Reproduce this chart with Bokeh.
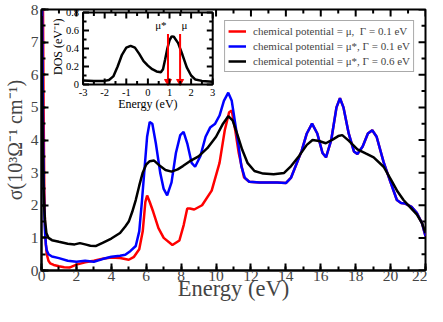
import numpy as np
from bokeh.plotting import figure
from bokeh.models import Range1d, SingleIntervalTicker, Legend, LegendItem
from bokeh.embed import file_html
from bokeh.resources import INLINE
from bokeh.core.properties import value

FONT = "Liberation Serif"

# ---------------- main data ----------------
E_red = [0.0, 0.04, 0.08, 0.12, 0.16, 0.2, 0.25, 0.3, 0.4, 0.5, 0.7, 1.0, 1.3, 1.6, 2.0, 2.5, 3.0, 3.5,
         4.0, 4.5, 5.0, 5.3, 5.6, 5.8, 5.95, 6.05, 6.2, 6.4, 6.7, 7.0, 7.5, 7.9, 8.15, 8.35, 8.5, 8.75,
         9.2, 9.75, 10.2, 10.5, 10.75, 10.9, 11.1, 11.3, 11.6, 11.9, 12.5, 13.0, 13.5, 14.0, 14.3, 14.9,
         15.2, 15.5, 15.8, 16.1, 16.3, 16.6, 16.9, 17.1, 17.3, 17.6, 17.9, 18.1, 18.4, 18.7, 18.95, 19.2,
         19.6, 20.0, 20.36, 20.6, 20.84, 21.2, 21.5, 21.8, 22.0]
S_red = [12, 10, 8.5, 5, 2.5, 1.4, 0.8, 0.5, 0.3, 0.22, 0.17, 0.13, 0.1, 0.09, 0.18, 0.25, 0.3, 0.36,
         0.4, 0.38, 0.33, 0.42, 0.65, 1.2, 2.1, 2.3, 2.1, 1.8, 1.3, 1.0, 0.78, 0.92, 1.4, 1.9, 1.9, 1.87,
         2.0, 2.45, 3.3, 4.3, 4.85, 4.9, 4.3, 3.6, 2.86, 2.72, 2.7, 2.7, 2.7, 2.68, 2.85, 3.66,
         4.2, 4.5, 4.2, 3.6, 3.47, 4.0, 5.0, 5.28, 5.0, 4.2, 3.65, 3.57, 3.8, 4.2, 4.3, 4.1,
         3.32, 2.7, 2.16, 2.07, 2.05, 1.95, 1.77, 1.45, 1.05]

E_blue = [0.0, 0.04, 0.08, 0.12, 0.16, 0.2, 0.25, 0.3, 0.4, 0.6, 1.0, 1.5, 2.0, 2.5, 3.0, 3.5, 4.0, 4.5,
          4.8, 5.1, 5.4, 5.6, 5.75, 5.9, 6.05, 6.2, 6.35, 6.55, 6.8, 7.0, 7.2, 7.45, 7.7, 7.95, 8.14,
          8.35, 8.6, 8.8, 9.1, 9.4, 9.66, 9.95, 10.2, 10.45, 10.7, 10.9, 11.1, 11.27, 11.45, 11.65, 11.9,
          12.5, 13.0, 13.5, 14.0, 14.3, 14.9, 15.2, 15.5, 15.8, 16.1, 16.3, 16.6, 16.9, 17.1, 17.3, 17.6,
          17.9, 18.1, 18.4, 18.7, 18.95, 19.2, 19.6, 20.0, 20.36, 20.6, 20.84, 21.2, 21.5, 21.8, 22.0]
S_blue = [12, 8, 5, 3, 1.8, 1.2, 0.8, 0.62, 0.5, 0.43, 0.38, 0.3, 0.27, 0.3, 0.27, 0.35, 0.42, 0.45,
          0.48, 0.6, 0.75, 1.2, 2.1, 3.1, 4.1, 4.55, 4.5, 3.9, 3.0, 2.5, 2.3, 2.7, 3.6, 4.15, 4.25,
          3.9, 3.3, 3.18, 3.5, 4.1, 4.38, 4.5, 4.75, 5.2, 5.45, 5.2, 4.5, 3.9, 3.2, 2.84, 2.72,
          2.7, 2.7, 2.7, 2.68, 2.85, 3.66, 4.2, 4.5, 4.2, 3.6, 3.47, 4.0, 5.0, 5.28, 5.0, 4.2,
          3.65, 3.57, 3.8, 4.2, 4.3, 4.1, 3.32, 2.7, 2.16, 2.07, 2.05, 1.95, 1.77, 1.45, 1.05]

E_black = [0.0, 0.04, 0.08, 0.12, 0.16, 0.2, 0.28, 0.4, 0.6, 1.0, 1.5, 1.9, 2.2, 2.5, 2.8, 3.1, 3.5,
           4.0, 4.5, 4.8, 5.0, 5.2, 5.4, 5.6, 5.8, 6.0, 6.2, 6.45, 6.8, 7.1, 7.45, 7.8, 8.1, 8.5, 9.0,
           9.5, 10.0, 10.4, 10.7, 10.95, 11.2, 11.5, 11.8, 12.2, 12.7, 13.3, 13.9, 14.3, 14.77, 15.2,
           15.53, 15.9, 16.29, 16.7, 17.0, 17.23, 17.6, 18.1, 18.6, 19.03, 19.6, 20.07, 20.4, 20.74,
           21.1, 21.5, 21.8, 22.0]
S_black = [7.8, 5.5, 3.6, 2.5, 1.9, 1.55, 1.15, 1.0, 0.93, 0.88, 0.82, 0.8, 0.84, 0.8, 0.76, 0.75, 0.85,
           0.98, 1.15, 1.35, 1.5, 1.8, 2.16, 2.6, 3.0, 3.25, 3.35, 3.37, 3.2, 3.08, 3.03, 3.1, 3.2, 3.35, 3.5,
           3.75, 4.1, 4.5, 4.73, 4.6, 4.2, 3.7, 3.3, 3.05, 2.97, 2.95, 2.99, 3.2, 3.52, 3.85,
           4.0, 3.97, 3.9, 4.02, 4.12, 4.15, 3.98, 3.71, 3.58, 3.47, 3.18, 2.74, 2.42, 2.16,
           1.95, 1.72, 1.45, 1.15]

legend_labels = ["chemical potential = \u03bc,  \u0393 = 0.1 eV",
                 "chemical potential = \u03bc*, \u0393 = 0.1 eV",
                 "chemical potential = \u03bc*, \u0393 = 0.6 eV"]

# ---------------- inset data ----------------
E_dos = [-3.0, -2.5, -2.0, -1.8, -1.6, -1.4, -1.2, -1.0, -0.8, -0.6, -0.4, -0.2, 0.0, 0.2, 0.4, 0.6,
         0.7, 0.8, 0.9, 1.0, 1.1, 1.2, 1.4, 1.6, 1.8, 2.0, 2.2, 2.5, 3.0]
DOS = [0.045, 0.038, 0.04, 0.05, 0.09, 0.2, 0.33, 0.41, 0.43, 0.41, 0.34, 0.26, 0.21, 0.17, 0.145, 0.137,
       0.17, 0.28, 0.40, 0.49, 0.535, 0.53, 0.46, 0.33, 0.19, 0.1, 0.055, 0.04, 0.03]
mu_pos = [0.93, 1.49]
mu_labels = ["\u03bc*", "\u03bc"]
arrow_top = 0.56
inset_xticks = [-3, -2, -1, 0, 1, 2, 3]
inset_yticks = [0, 0.2, 0.4, 0.6, 0.8]
inset_yticklabels = ["0", "0.2", "0.4", "0.6", "0.8"]

# ---------------- figure ----------------
W, H = 427, 306
BL, BR, BT, BB = 37, 2, 9, 36
FW, FH = W - BL - BR, H - BT - BB
p = figure(width=W, height=H, x_range=Range1d(0, 22), y_range=Range1d(0, 8),
           output_backend="svg", toolbar_location=None,
           min_border_left=BL, min_border_right=BR, min_border_top=BT, min_border_bottom=BB)
p.background_fill_color = "white"
p.border_fill_color = "white"
p.grid.visible = False
p.outline_line_color = "black"
p.outline_line_width = 2

xt = SingleIntervalTicker(interval=2, num_minor_ticks=2)
yt = SingleIntervalTicker(interval=1, num_minor_ticks=2)
p.xaxis.ticker = xt
p.yaxis.ticker = yt
for ax in (p.xaxis[0], p.yaxis[0]):
    ax.axis_line_width = 2
    ax.major_tick_in = 7
    ax.major_tick_out = 0
    ax.minor_tick_in = 4
    ax.minor_tick_out = 0
    ax.major_tick_line_width = 2
    ax.minor_tick_line_width = 2
    ax.major_label_text_font = FONT
    ax.major_label_text_font_size = "15.5px"
    ax.axis_label_text_font = FONT
    ax.axis_label_text_font_size = "22.5px"
    ax.axis_label_text_font_style = "normal"
p.xaxis.major_label_standoff = 0
p.xaxis.axis_label_standoff = -8
p.yaxis.major_label_standoff = 3
p.yaxis.axis_label_standoff = 2
p.xaxis.axis_label = "Energy (eV)"
p.yaxis.axis_label = "\u03c3(10\u00b3\u03a9\u207b\u00b9 cm\u207b\u00b9)"
p.yaxis.axis_label_text_font_size = "20px"

# mirrored inward ticks on the top and right frame edges
ux = 22.0 / FW
uy = 8.0 / FH
tx_maj = np.arange(0, 23, 2.0)
tx_min = np.arange(1, 22, 2.0)
ty_maj = np.arange(0, 9, 1.0)
ty_min = np.arange(0.5, 8, 1.0)
for xs, ln in ((tx_maj, 7), (tx_min, 4)):
    p.segment(x0=xs, y0=[8] * len(xs), x1=xs, y1=[8 - ln * uy] * len(xs), line_color="black", line_width=2)
for ys, ln in ((ty_maj, 7), (ty_min, 4)):
    p.segment(x0=[22] * len(ys), y0=ys, x1=[22 - ln * ux] * len(ys), y1=ys, line_color="black", line_width=2)

r_red = p.line(E_red, S_red, line_color="#ff0000", line_width=2.5)
r_blue = p.line(E_blue, S_blue, line_color="#0000ff", line_width=2.5)
r_black = p.line(E_black, S_black, line_color="black", line_width=2.5)

legend = Legend(items=[LegendItem(label=legend_labels[0], renderers=[r_red]),
                       LegendItem(label=legend_labels[1], renderers=[r_blue]),
                       LegendItem(label=legend_labels[2], renderers=[r_black])],
                location="top_right", margin=11,
                label_text_font=FONT, label_text_font_size="11px",
                glyph_width=18, glyph_height=14, label_height=14, label_standoff=7,
                spacing=1, padding=3, border_line_color="#555555", border_line_width=1,
                background_fill_alpha=1.0)
p.add_layout(legend)

# ---------------- inset via extra ranges ----------------
fl, fr = 42 / FW, 173 / FW
span_x = 6 / (fr - fl)
ix0 = -3 - fl * span_x
ft, fb = (FH - 3) / FH, (FH - 75) / FH
span_y = 0.8 / (ft - fb)
iy0 = 0 - fb * span_y
p.extra_x_ranges = {"ix": Range1d(ix0, ix0 + span_x)}
p.extra_y_ranges = {"iy": Range1d(iy0, iy0 + span_y)}
kw = dict(x_range_name="ix", y_range_name="iy")

p.quad(left=-3, right=3, bottom=0, top=0.8, fill_color="white", line_color=None, **kw)
p.line(E_dos, DOS, line_color="black", line_width=2.5, **kw)

pxx = span_x / FW  # ix units per px
pxy = span_y / FH  # iy units per px

# arrows
p.segment(x0=mu_pos, y0=[arrow_top] * 2, x1=mu_pos, y1=[5 * pxy] * 2, line_color="#ff0000", line_width=2, **kw)
p.scatter(x=mu_pos, y=[3 * pxy] * 2, marker="inverted_triangle", size=7, fill_color="#ff0000",
          line_color="#ff0000", **kw)
p.text(x=[mu_pos[0] - 0.33, mu_pos[1] + 0.2], y=[0.6, 0.6], text=mu_labels, text_font=value(FONT),
       text_font_size="11px", text_align="center", text_baseline="bottom", **kw)

# inset frame
p.quad(left=-3, right=3, bottom=0, top=0.8, fill_color=None, line_color="black", line_width=2, **kw)

# inset ticks
xmaj = np.array(inset_xticks, dtype=float)
xmin = np.arange(-2.5, 3.0, 1.0)
ymaj = np.array(inset_yticks, dtype=float)
ymin = np.arange(0.1, 0.8, 0.2)
for xs, ln in ((xmaj, 6), (xmin, 3.5)):
    p.segment(x0=xs, y0=[0] * len(xs), x1=xs, y1=[ln * pxy] * len(xs), line_color="black", line_width=2, **kw)
    p.segment(x0=xs, y0=[0.8] * len(xs), x1=xs, y1=[0.8 - ln * pxy] * len(xs), line_color="black", line_width=2, **kw)
for ys, ln in ((ymaj, 6), (ymin, 3.5)):
    p.segment(x0=[-3] * len(ys), y0=ys, x1=[-3 + ln * pxx] * len(ys), y1=ys, line_color="black", line_width=2, **kw)
    p.segment(x0=[3] * len(ys), y0=ys, x1=[3 - ln * pxx] * len(ys), y1=ys, line_color="black", line_width=2, **kw)

p.text(x=inset_xticks, y=[-8 * pxy] * len(inset_xticks), text=[str(t) for t in inset_xticks],
       text_font=value(FONT), text_font_size="10.5px", text_align="center", text_baseline="middle", **kw)
p.text(x=[-3 - 4 * pxx] * len(inset_yticks), y=inset_yticks, text=inset_yticklabels,
       text_font=value(FONT), text_font_size="10.5px", text_align="right", text_baseline="middle", **kw)
p.text(x=[0], y=[-19 * pxy], text=["Energy (eV)"], text_font=value(FONT), text_font_size="12px",
       text_align="center", text_baseline="middle", **kw)
p.text(x=[-3 - 25 * pxx], y=[0.42], text=["DOS (eV\u207b\u00b9)"], text_font=value(FONT),
       text_font_size="12px", text_align="center", text_baseline="middle", angle=np.pi / 2, **kw)

open("out.html", "w").write(file_html(p, INLINE))
